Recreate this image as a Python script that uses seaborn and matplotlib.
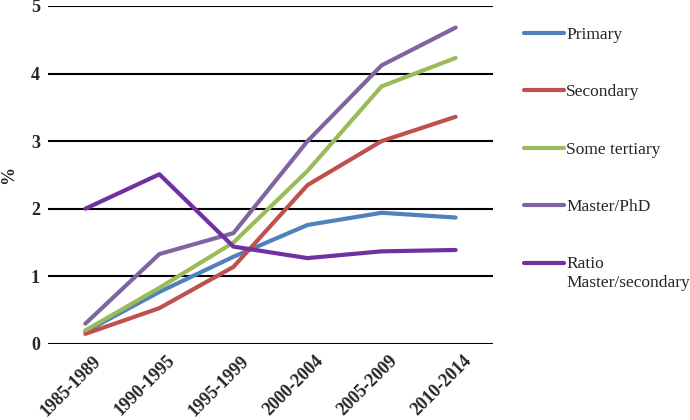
import matplotlib
matplotlib.use("Agg")
import matplotlib.pyplot as plt
import matplotlib.transforms as mtransforms
from matplotlib.legend_handler import HandlerLine2D
import seaborn as sns
import pandas as pd

periods = ["1985-1989", "1990-1995", "1995-1999", "2000-2004", "2005-2009", "2010-2014"]
primary = [0.18, 0.77, 1.29, 1.76, 1.94, 1.87]
secondary = [0.15, 0.53, 1.14, 2.35, 3.00, 3.36]
some_tertiary = [0.20, 0.83, 1.50, 2.56, 3.81, 4.23]
master_phd = [0.30, 1.33, 1.64, 3.00, 4.12, 4.68]
ratio = [2.00, 2.51, 1.44, 1.27, 1.37, 1.39]

series = {
    "Primary": primary,
    "Secondary": secondary,
    "Some tertiary": some_tertiary,
    "Master/PhD": master_phd,
    "Ratio\nMaster/secondary": ratio,
}
colors = ["#4F81BD", "#C0504D", "#9BBB59", "#8064A2", "#7030A0"]

rows = []
for name, vals in series.items():
    for p, v in zip(periods, vals):
        rows.append({"period": p, "value": v, "series": name})
df = pd.DataFrame(rows)


class TopLineHandler(HandlerLine2D):
    # put the handle next to the first line of a two-line label
    def create_artists(self, legend, orig_handle, xdescent, ydescent,
                       width, height, fontsize, trans):
        artists = super().create_artists(legend, orig_handle, xdescent, ydescent,
                                         width, height, fontsize, trans)
        for a in artists:
            a.set_ydata([y + 0.6 * fontsize for y in a.get_ydata()])
        return artists


sns.set_style("white")
plt.rcParams["font.family"] = ["Liberation Serif", "DejaVu Serif"]

fig = plt.figure(figsize=(6.9, 4.2), dpi=100)
ax = fig.add_axes([0.07, 0.181, 0.644, 0.805])

sns.lineplot(data=df, x="period", y="value", hue="series", palette=colors,
             linewidth=3, sort=False, ax=ax)

ax.set_ylim(0, 5)
ax.set_xlim(-0.5, len(periods) - 0.5)
ax.set_yticks(range(0, 6))
ax.yaxis.grid(True, color="black", linewidth=1.5)
ax.set_axisbelow(True)
for s in ax.spines.values():
    s.set_visible(False)
ax.tick_params(axis="y", length=0, labelsize=13, pad=6)
ax.tick_params(axis="x", length=0, pad=6)
for lbl in ax.get_yticklabels():
    lbl.set_fontweight("bold")
ax.set_xticks(range(len(periods)))
ax.set_xticklabels(periods, rotation=45, ha="right", rotation_mode="anchor",
                   fontweight="bold", fontsize=13)
shift = mtransforms.ScaledTranslation(5 / 72, 0, fig.dpi_scale_trans)
for lbl in ax.get_xticklabels():
    lbl.set_transform(lbl.get_transform() + shift)
ax.set_xlabel("")
ax.set_ylabel("%", fontsize=13, fontweight="bold", labelpad=10)

handles, labels = ax.get_legend_handles_labels()
ax.legend(handles, labels, title=None, frameon=False, loc="upper left",
          bbox_to_anchor=(1.035, 0.985), fontsize=12.5, labelspacing=2.38,
          handlelength=2.3, handletextpad=0.15,
          handler_map={handles[-1]: TopLineHandler()})

fig.savefig("out.png", dpi=100)
